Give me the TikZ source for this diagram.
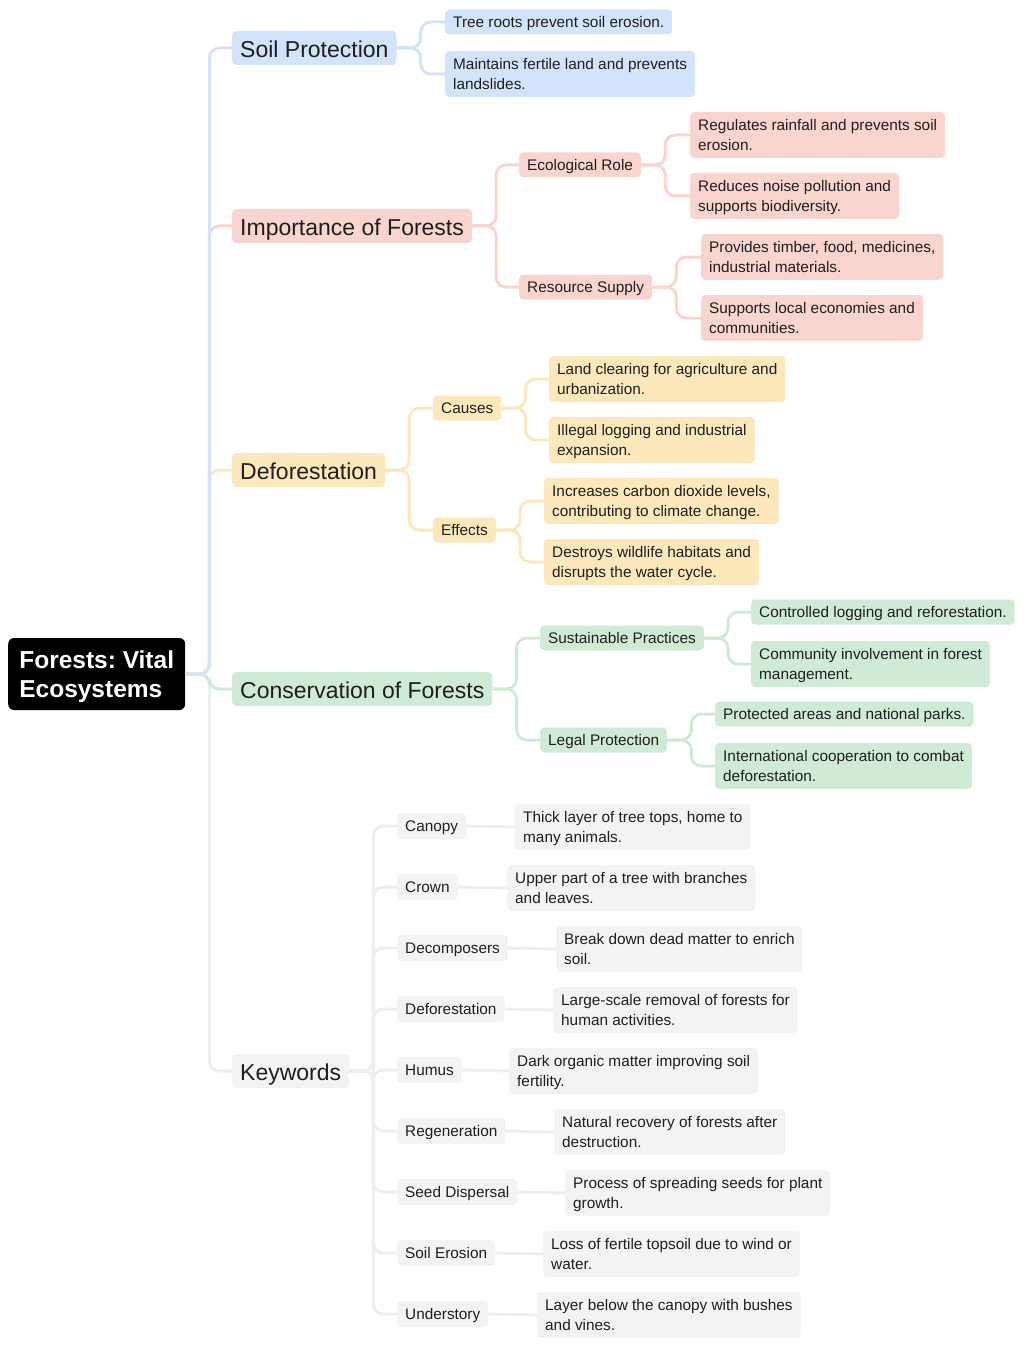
\documentclass[tikz,border=0pt]{standalone}
\usepackage{fontspec}
\setmainfont{Liberation Sans}
\frenchspacing
\definecolor{soilblue}{rgb}{.83,.89,.99}
\definecolor{imppink}{rgb}{.98,.83,.81}
\definecolor{defyellow}{rgb}{.99,.91,.73}
\definecolor{congreen}{rgb}{.81,.92,.84}
\definecolor{keygrey}{rgb}{.945,.953,.957}
\definecolor{keyline}{rgb}{.925,.933,.941}
\definecolor{ink}{rgb}{.12,.12,.12}

\begin{document}
\begin{tikzpicture}[x=1pt, y=-1pt,
	box/.style={rounded corners=4pt, anchor=west, align=left, inner xsep=8pt, inner ysep=0pt, minimum height=25pt, text=ink, font=\fontsize{15.35}{20}\selectfont},
	one/.style={text height=12.5pt, text depth=1.5pt},
	two/.style={minimum height=46pt, text depth=0pt},
	topic/.style={box, minimum height=34pt, text height=21pt, text depth=1.5pt, font=\fontsize{23}{27}\selectfont},
	link/.style={line width=3pt, rounded corners=10pt}]
	
	\useasboundingbox (0,0) rectangle (1024,1348);
	
	\node[fill=black, text=white, rounded corners=6pt, anchor=west, align=left, inner xsep=10pt, minimum width=177pt, minimum height=72pt, font=\bfseries\fontsize{24.5}{29.5}\selectfont] (root) at (8,674) {Forests: Vital\\Ecos\smash{y}stems};
	
	\node[topic, fill=soilblue] (soil) at (232,48) {Soil Protection};
	\node[topic, fill=imppink] (imp) at (232,226) {Importance of Forests};
	\node[topic, fill=defyellow] (defo) at (232,470) {Deforestation};
	\node[topic, fill=congreen] (cons) at (232,689) {Conservation of Forests};
	\node[topic, fill=keygrey] (keys) at (232,1071) {Keywords};
	
	\node[box, one, fill=soilblue] (soila) at (445,22) {Tree roots prevent soil erosion.};
	\node[box, two, fill=soilblue] (soilb) at (445,74) {Maintains fertile land and prevents\\landslides.};
	
	\node[box, one, fill=imppink] (eco) at (519,165) {Ecological Role};
	\node[box, one, fill=imppink] (res) at (519,287) {Resource Supply};
	\node[box, two, fill=imppink] (ecoa) at (690,135) {Regulates rainfall and prevents soil\\erosion.};
	\node[box, two, fill=imppink] (ecob) at (690,196) {Reduces noise pollution and\\supports biodiversity.};
	\node[box, two, fill=imppink] (resa) at (701,257) {Provides timber, food, medicines,\\industrial materials.};
	\node[box, two, fill=imppink] (resb) at (701,318) {Supports local economies and\\communities.};
	
	\node[box, one, fill=defyellow] (cau) at (433,408) {Causes};
	\node[box, one, fill=defyellow] (eff) at (433,530) {Effects};
	\node[box, two, fill=defyellow] (caua) at (549,379) {Land clearing for agriculture and\\urbanization.};
	\node[box, two, fill=defyellow] (caub) at (549,440) {Illegal logging and industrial\\expansion.};
	\node[box, two, fill=defyellow] (effa) at (544,501) {Increases carbon dioxide levels,\\contributing to climate change.};
	\node[box, two, fill=defyellow] (effb) at (544,562) {Destroys wildlife habitats and\\disrupts the water cycle.};
	
	\node[box, one, fill=congreen] (sus) at (540,638) {Sustainable Practices};
	\node[box, one, fill=congreen] (leg) at (540,740) {Legal Protection};
	\node[box, one, fill=congreen] (susa) at (751,612) {Controlled logging and reforestation.};
	\node[box, two, fill=congreen] (susb) at (751,664) {Community involvement in forest\\management.};
	\node[box, one, fill=congreen] (lega) at (715,714) {Protected areas and national parks.};
	\node[box, two, fill=congreen] (legb) at (715,766) {International cooperation to combat\\deforestation.};
	
	\node[box, one, minimum height=26pt, fill=keygrey] (kwa) at (397,826) {Canopy};
	\node[box, one, minimum height=26pt, fill=keygrey] (kwb) at (397,887) {Crown};
	\node[box, one, minimum height=26pt, fill=keygrey] (kwc) at (397,948) {Decomposers};
	\node[box, one, minimum height=26pt, fill=keygrey] (kwd) at (397,1009) {Deforestation};
	\node[box, one, minimum height=26pt, fill=keygrey] (kwe) at (397,1070) {Humus};
	\node[box, one, minimum height=26pt, fill=keygrey] (kwf) at (397,1131) {Regeneration};
	\node[box, one, minimum height=26pt, fill=keygrey] (kwg) at (397,1192) {Seed Dispersal};
	\node[box, one, minimum height=26pt, fill=keygrey] (kwh) at (397,1253) {Soil Erosion};
	\node[box, one, minimum height=26pt, fill=keygrey] (kwi) at (397,1314) {Understory};
	
	\node[box, two, fill=keygrey] (kda) at (515,827) {Thick layer of tree tops, home to\\many animals.};
	\node[box, two, fill=keygrey] (kdb) at (507,888) {Upper part of a tree with branches\\and leaves.};
	\node[box, two, fill=keygrey] (kdc) at (556,949) {Break down dead matter to enrich\\soil.};
	\node[box, two, fill=keygrey] (kdd) at (553,1010) {Large-scale removal of forests for\\human activities.};
	\node[box, two, fill=keygrey] (kde) at (509,1071) {Dark organic matter improving soil\\fertility.};
	\node[box, two, fill=keygrey] (kdf) at (554,1132) {Natural recovery of forests after\\destruction.};
	\node[box, two, fill=keygrey] (kdg) at (565,1193) {Process of spreading seeds for plant\\growth.};
	\node[box, two, fill=keygrey] (kdh) at (543,1254) {Loss of fertile topsoil due to wind or\\water.};
	\node[box, two, fill=keygrey] (kdi) at (537,1315) {Layer below the canopy with bushes\\and vines.};
	
	\draw[link, keyline] (root.east) -- ++(24,0) |- (keys.west);
	\draw[link, congreen] (root.east) -- ++(24,0) |- (cons.west);
	\draw[link, defyellow] (root.east) -- ++(24,0) |- (defo.west);
	\draw[link, imppink] (root.east) -- ++(24,0) |- (imp.west);
	\draw[link, soilblue] (root.east) -- ++(24,0) |- (soil.west);
	
	\draw[link, soilblue] (soil.east) -- ++(24,0) |- (soila.west);
	\draw[link, soilblue] (soil.east) -- ++(24,0) |- (soilb.west);
	
	\draw[link, imppink] (imp.east) -- ++(24,0) |- (eco.west);
	\draw[link, imppink] (imp.east) -- ++(24,0) |- (res.west);
	\draw[link, imppink] (eco.east) -- ++(24,0) |- (ecoa.west);
	\draw[link, imppink] (eco.east) -- ++(24,0) |- (ecob.west);
	\draw[link, imppink] (res.east) -- ++(24,0) |- (resa.west);
	\draw[link, imppink] (res.east) -- ++(24,0) |- (resb.west);
	
	\draw[link, defyellow] (defo.east) -- ++(24,0) |- (cau.west);
	\draw[link, defyellow] (defo.east) -- ++(24,0) |- (eff.west);
	\draw[link, defyellow] (cau.east) -- ++(24,0) |- (caua.west);
	\draw[link, defyellow] (cau.east) -- ++(24,0) |- (caub.west);
	\draw[link, defyellow] (eff.east) -- ++(24,0) |- (effa.west);
	\draw[link, defyellow] (eff.east) -- ++(24,0) |- (effb.west);
	
	\draw[link, congreen] (cons.east) -- ++(24,0) |- (sus.west);
	\draw[link, congreen] (cons.east) -- ++(24,0) |- (leg.west);
	\draw[link, congreen] (sus.east) -- ++(24,0) |- (susa.west);
	\draw[link, congreen] (sus.east) -- ++(24,0) |- (susb.west);
	\draw[link, congreen] (leg.east) -- ++(24,0) |- (lega.west);
	\draw[link, congreen] (leg.east) -- ++(24,0) |- (legb.west);
	
	\draw[link, keyline] (keys.east) -- ++(24,0) |- (kwa.west);
	\draw[link, keyline] (keys.east) -- ++(24,0) |- (kwb.west);
	\draw[link, keyline] (keys.east) -- ++(24,0) |- (kwc.west);
	\draw[link, keyline] (keys.east) -- ++(24,0) |- (kwd.west);
	\draw[link, keyline] (keys.east) -- ++(24,0) |- (kwe.west);
	\draw[link, keyline] (keys.east) -- ++(24,0) |- (kwf.west);
	\draw[link, keyline] (keys.east) -- ++(24,0) |- (kwg.west);
	\draw[link, keyline] (keys.east) -- ++(24,0) |- (kwh.west);
	\draw[link, keyline] (keys.east) -- ++(24,0) |- (kwi.west);
	
	\draw[link, keyline] (kwa.east) -- (kda.west);
	\draw[link, keyline] (kwb.east) -- (kdb.west);
	\draw[link, keyline] (kwc.east) -- (kdc.west);
	\draw[link, keyline] (kwd.east) -- (kdd.west);
	\draw[link, keyline] (kwe.east) -- (kde.west);
	\draw[link, keyline] (kwf.east) -- (kdf.west);
	\draw[link, keyline] (kwg.east) -- (kdg.west);
	\draw[link, keyline] (kwh.east) -- (kdh.west);
	\draw[link, keyline] (kwi.east) -- (kdi.west);
	
\end{tikzpicture}
\end{document}
